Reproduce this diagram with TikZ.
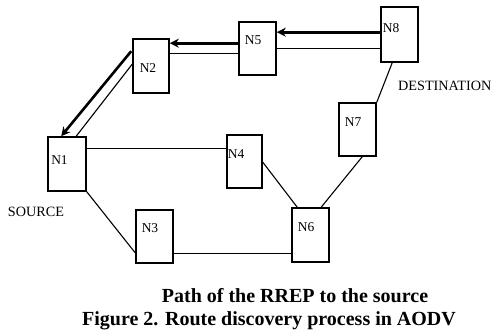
\documentclass[tikz,border=0pt]{standalone}
\usepackage{fontspec}
\setmainfont{Liberation Serif}
\usetikzlibrary{arrows.meta,calc}
\begin{document}
\begin{tikzpicture}[x=1pt,y=-1pt,
  box/.style={draw, line width=1.6pt, rectangle, inner sep=0pt},
  lbl/.style={font=\fontsize{13.5}{15}\selectfont, inner sep=0pt},
  tag/.style={font=\fontsize{14.2}{16}\selectfont, inner sep=0pt},
  link/.style={line width=1.1pt},
  rrep/.style={line width=2.6pt, -{Stealth[length=9pt,width=9pt]}},
  captxt/.style={font=\bfseries\fontsize{20}{22}\selectfont, inner sep=0pt, anchor=base}]
\useasboundingbox (0,0) rectangle (495,333);
% boxes
\node[box, minimum width=38pt, minimum height=54pt] (n1) at (67,164) {};
\node[box, minimum width=36pt, minimum height=54pt] (n2) at (151,66) {};
\node[box, minimum width=37pt, minimum height=53pt] (n5) at (257.5,48.5) {};
\node[box, minimum width=37pt, minimum height=55pt] (n8) at (399.5,34.5) {};
\node[box, minimum width=37pt, minimum height=53pt] (n7) at (357.5,129.5) {};
\node[box, minimum width=35pt, minimum height=53pt] (n4) at (244.5,161.5) {};
\node[box, minimum width=37pt, minimum height=53pt] (n3) at (154.5,236.5) {};
\node[box, minimum width=37pt, minimum height=54pt] (n6) at (310.5,235) {};
% labels
\node[lbl] (l1) at (59.5,160) {N1};
\node[lbl] (l2) at (148,68) {N2};
\node[lbl] (l5) at (253,40) {N5};
\node[lbl] (l8) at (391,28) {N8};
\node[lbl] (l7) at (353,122) {N7};
\node[lbl] (l4) at (236,154) {N4};
\node[lbl] (l3) at (150,228) {N3};
\node[lbl] (l6) at (306,227) {N6};
\node[tag] (src) at (36,212) {SOURCE};
\node[tag, anchor=west] (dst) at (398,86) {DESTINATION};
% plain links
\draw[link] ($(n1.north east)+(0,12)$) -- ($(n4.north west)+(0,14)$);
\draw[link] (n1.south east) -- ($(n3.south west)+(0,-11)$);
\draw[link] ($(n3.south east)+(0,-10)$) -- ($(n6.south west)+(0,-9)$);
\draw[link] ($(n4.north east)+(0,28)$) -- ($(n6.north west)+(6,0)$);
\draw[link] ($(n6.north west)+(30,0)$) -- ($(n7.south west)+(24,0)$);
\draw[link] (n7.north east) -- ($(n8.south west)+(12,0)$);
% double links with RREP
\draw[link] ($(n8.north west)+(0,42)$) -- ($(n5.north east)+(0,27)$);
\draw[rrep] ($(n8.north west)+(0,26)$) -- ($(n5.north east)+(0,11)$);
\draw[link] ($(n5.north west)+(0,32)$) -- ($(n2.north east)+(0,15)$);
\draw[rrep] ($(n5.north west)+(0,22)$) -- ($(n2.north east)+(0,5)$);
\draw[link] ($(n2.north west)+(0,26)$) -- ($(n1.north west)+(29,0)$);
\draw[rrep] ($(n2.north west)+(-1,13)$) -- ($(n1.north west)+(14,0)$);
% caption
\node[captxt] (c1) at (295,302) {Path of the RREP to the source};
\node[captxt] (c2) at (269,325) {Figure 2. Route discovery process in AODV};
\end{tikzpicture}
\end{document}
